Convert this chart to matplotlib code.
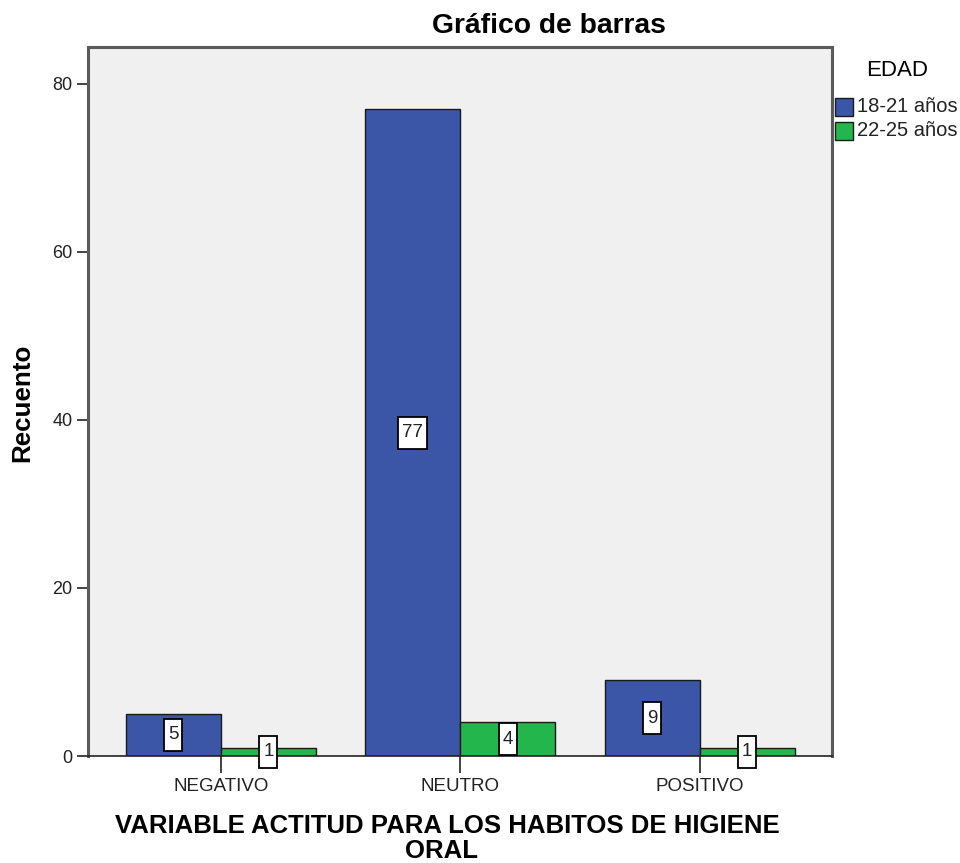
import matplotlib.pyplot as plt
import matplotlib.patches as mpatches
import matplotlib.transforms as mtransforms
import numpy as np

plt.rcParams["font.family"] = ["Liberation Sans", "DejaVu Sans"]

categories = ["NEGATIVO", "NEUTRO", "POSITIVO"]
series_names = ["18-21 años", "22-25 años"]
counts_18_21 = [5, 77, 9]
counts_22_25 = [1, 4, 1]
y_ticks = [0, 20, 40, 60, 80]

BLUE = "#3B55A7"
GREEN = "#23B64C"
BG = "#F0F0F0"

fig = plt.figure(figsize=(9.6, 8.63), dpi=100)
ax = fig.add_axes([88 / 960, 1 - 756 / 863, (832 - 88) / 960, (756 - 47) / 863])
ax.set_facecolor(BG)

x = np.arange(len(categories))
width = 0.397
bars_a = ax.bar(x - width / 2, counts_18_21, width, color=BLUE,
                edgecolor="#1a1a1a", linewidth=1.0, zorder=2)
bars_b = ax.bar(x + width / 2, counts_22_25, width, color=GREEN,
                edgecolor="#1a1a1a", linewidth=1.0, zorder=2)

# value labels in narrow, tall white boxes (size in inches)
for bars in (bars_a, bars_b):
    for b in bars:
        h = b.get_height()
        xc = b.get_x() + b.get_width() / 2
        label = f"{int(h)}"
        bw = 0.18 if len(label) == 1 else 0.29
        bh = 0.32
        trans = fig.dpi_scale_trans + mtransforms.ScaledTranslation(xc, h / 2, ax.transData)
        ax.add_patch(mpatches.Rectangle((-bw / 2, -bh / 2), bw, bh, transform=trans,
                                        facecolor="white", edgecolor="black",
                                        linewidth=1.3, zorder=3, clip_on=False))
        ax.text(xc, h / 2, label, ha="center", va="center", fontsize=13.5,
                color="#222222", zorder=4)

ax.set_xlim(-0.555, 2.553)
ax.set_ylim(0, 84.4)
ax.set_yticks(y_ticks)
ax.set_xticks(x)
ax.set_xticklabels(categories, fontsize=13.5, color="#222222")
ax.tick_params(axis="y", labelsize=13, length=8, width=1.2, pad=3, colors="#222222")
ax.tick_params(axis="x", length=12, width=1.2, pad=4, colors="#222222")

for side in ("left", "top", "right"):
    ax.spines[side].set_color("#5a5a5a")
    ax.spines[side].set_linewidth(2.2)
ax.spines["bottom"].set_color("#222222")
ax.spines["bottom"].set_linewidth(1.2)

fig.text(549 / 960, 1 - 26 / 863, "Gráfico de barras", ha="center", va="center",
         fontsize=20.3, fontweight="bold")
fig.text(22 / 960, 1 - 403 / 863, "Recuento", ha="center", va="center",
         rotation=90, fontsize=18.7, fontweight="bold")
fig.text(447 / 960, 1 - 826 / 863, "VARIABLE ACTITUD PARA LOS HABITOS DE HIGIENE",
         ha="center", va="center", fontsize=18.5, fontweight="bold")
fig.text(441 / 960, 1 - 851 / 863, "ORAL",
         ha="center", va="center", fontsize=18.5, fontweight="bold")

# legend drawn by hand in figure pixels
fig.text(897 / 960, 1 - 71 / 863, "EDAD", ha="center", va="center", fontsize=16)
for i, (name, color) in enumerate(zip(series_names, [BLUE, GREEN])):
    yc = 107 + i * 24
    fig.patches.append(mpatches.Rectangle((835 / 960, 1 - (yc + 9) / 863), 18 / 960, 18 / 863,
                                          transform=fig.transFigure, facecolor=color,
                                          edgecolor="#1a1a1a", linewidth=1.0))
    fig.text(857 / 960, 1 - yc / 863, name, ha="left", va="center", fontsize=14.5,
             color="#222222")

fig.savefig("out.png", dpi=100)
